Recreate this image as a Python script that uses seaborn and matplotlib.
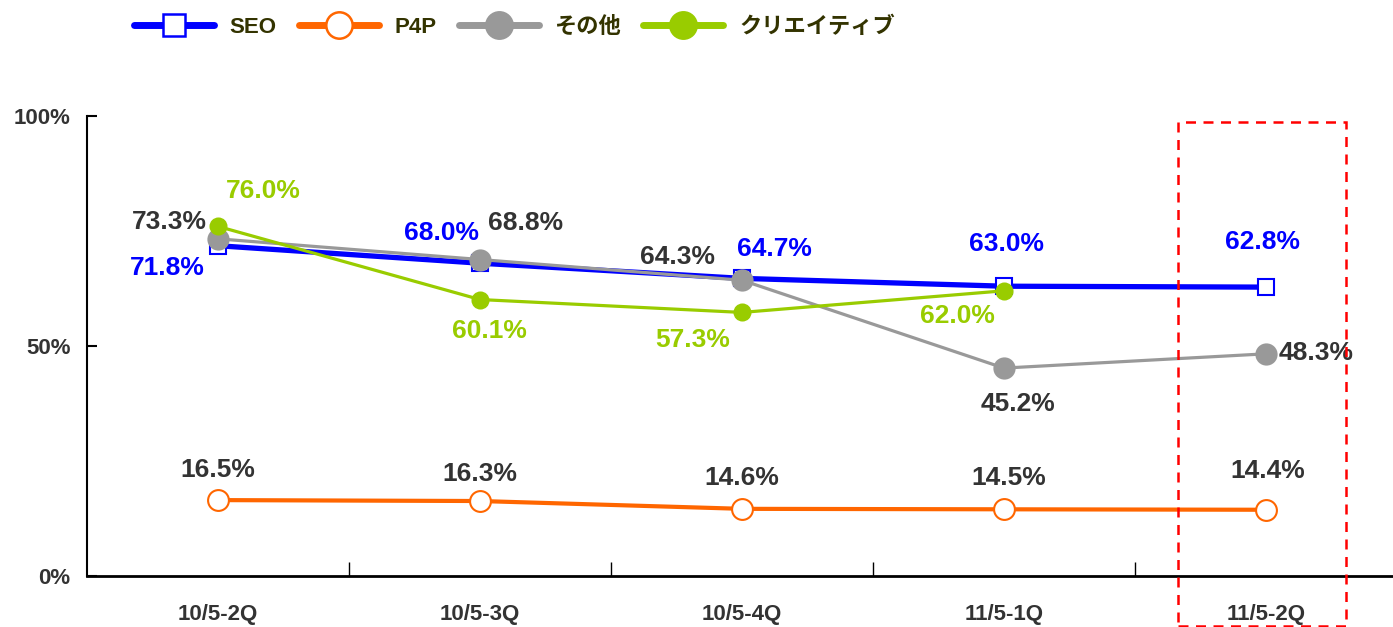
import matplotlib
matplotlib.use("Agg")
import matplotlib.pyplot as plt
import seaborn as sns
from matplotlib.lines import Line2D
from matplotlib.patches import Rectangle
from matplotlib.ticker import FixedLocator

sns.set_style("white")
plt.rcParams["font.family"] = ["Liberation Sans", "Noto Sans CJK JP", "DejaVu Sans"]

quarters = ["10/5-2Q", "10/5-3Q", "10/5-4Q", "11/5-1Q", "11/5-2Q"]
seo = [71.8, 68.0, 64.7, 63.0, 62.8]
p4p = [16.5, 16.3, 14.6, 14.5, 14.4]
other = [73.3, 68.8, 64.3, 45.2, 48.3]
creative = [76.0, 60.1, 57.3, 62.0]

# label offsets in pixels
seo_off = [(-51, -22), (-38, 30), (32, 29), (3, 42), (-3, 45)]
p4p_off = [(0, 30), (0, 27), (0, 31), (5, 31), (2, 39)]
other_off = [(-49, 17), (46, 37), (-64, 23), (14, -36), (50, 1)]
creative_off = [(45, 35), (9, -31), (-49, -28), (-47, -25)]

fig = plt.figure(figsize=(13.93, 6.27), dpi=100)
ax = fig.add_axes([87 / 1393, 51 / 627, 1 - 87 / 1393, 460 / 627])

# name, values, colour, marker, size, line width, face, offsets, label colour, legend marker size
series = [
    ("SEO", seo, "#0000FF", "s", 11.5, 3.8, "white", seo_off, "#0000FF", 16),
    ("P4P", p4p, "#FF6600", "o", 15, 3.0, "white", p4p_off, "#333333", 19),
    ("その他", other, "#999999", "o", 14.5, 2.3, "#999999", other_off, "#333333", 19),
    ("クリエイティブ", creative, "#99CC00", "o", 11.5, 2.3, "#99CC00", creative_off, "#99CC00", 19),
]

handles = []
for name, vals, col, mk, ms, lw, fc, offs, tcol, lms in series:
    xs = list(range(len(vals)))
    sns.lineplot(x=xs, y=vals, ax=ax, color=col, linewidth=lw, marker=mk,
                 markersize=ms, markerfacecolor=fc, markeredgecolor=col,
                 markeredgewidth=1.5, legend=False)
    for x, v, (dx, dy) in zip(xs, vals, offs):
        ax.annotate(f"{v:.1f}%", (x, v), xytext=(dx, dy), textcoords="offset pixels",
                    ha="center", va="center", fontsize=19, fontweight="bold", color=tcol)
    handles.append(Line2D([], [], color=col, linewidth=5, marker=mk, markersize=lms,
                          markerfacecolor=fc, markeredgecolor=col, markeredgewidth=1.8,
                          label=name))

ax.set_xlim(-0.5, 4.485)
ax.set_ylim(0, 100)
ax.set_yticks([0, 50, 100])
ax.set_yticklabels(["0%", "50%", "100%"])
ax.set_xticks(range(len(quarters)))
ax.set_xticklabels(quarters)
ax.xaxis.set_minor_locator(FixedLocator([0.5, 1.5, 2.5, 3.5]))
ax.tick_params(axis="x", which="major", length=0, pad=20, labelsize=16, labelcolor="#333333")
ax.tick_params(axis="x", which="minor", direction="in", length=10, width=1, color="black", bottom=True)
ax.tick_params(axis="y", direction="in", length=7, width=1.5, color="black", left=True,
               pad=12, labelsize=16, labelcolor="#333333")
for lab in ax.get_xticklabels() + ax.get_yticklabels():
    lab.set_fontweight("bold")

for s in ["top", "right"]:
    ax.spines[s].set_visible(False)
ax.spines["left"].set_color("black")
ax.spines["left"].set_linewidth(1.5)
ax.spines["bottom"].set_color("black")
ax.spines["bottom"].set_linewidth(2)

ax.add_patch(Rectangle((3.664, -10.9), 0.641, 109.6, fill=False, edgecolor="#FF0000",
                       linestyle=(0, (4, 3)), linewidth=1.8, clip_on=False, zorder=5))

leg = fig.legend(handles=handles, loc="upper left", bbox_to_anchor=(0.082, 1.005), ncol=4,
                 frameon=False, handlelength=3.6, columnspacing=1.0, handletextpad=0.7,
                 prop={"weight": "bold", "size": 16})
for t in leg.get_texts():
    t.set_color("#333300")

fig.savefig("out.png", dpi=100)
